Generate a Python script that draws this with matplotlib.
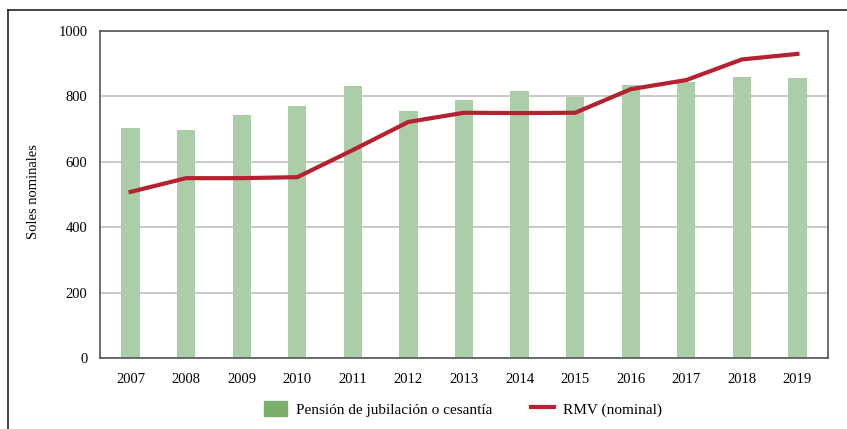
import matplotlib.pyplot as plt
from matplotlib.lines import Line2D
import numpy as np

plt.rcParams['font.family'] = ['Liberation Serif', 'DejaVu Serif']

years = ['2007', '2008', '2009', '2010', '2011', '2012', '2013',
         '2014', '2015', '2016', '2017', '2018', '2019']
pension = [702, 697, 743, 771, 832, 755, 789, 817, 798, 835, 844, 859, 856]
rmv = [508, 550, 550, 553, 636, 722, 750, 749, 750, 822, 850, 913, 930]

fig = plt.figure(figsize=(8.47, 4.29), dpi=100)
ax = fig.add_axes([100 / 847, 1 - 358 / 429, 728 / 847, 327 / 429])

x = np.arange(len(years))
ax.bar(x, pension, width=0.33, color='#abcda8', zorder=2,
       label='Pensión de jubilación o cesantía')
ax.plot(x, rmv, color='#b52130', lw=3, zorder=3, label='RMV (nominal)')

ax.set_xlim(-0.55, 12.55)
ax.set_ylim(0, 1000)
ax.set_yticks([0, 200, 400, 600, 800, 1000])
ax.set_xticks(x)
ax.set_xticklabels(years)
ax.tick_params(length=0, labelsize=10.5, colors='black')
ax.tick_params(axis='x', pad=11)
ax.tick_params(axis='y', pad=9)
ax.grid(axis='y', color='#c0c0c0', lw=1.2, zorder=1)
for s in ax.spines.values():
    s.set_color('#555555')
    s.set_linewidth(1.2)

ax.set_ylabel('Soles nominales', fontsize=10.5)
ax.yaxis.set_label_coords(-60 / 728, 0.51)

handles = [plt.Rectangle((0, 0), 1, 1, color='#7aaf6a'),
           Line2D([0], [0], color='#b52130', lw=3)]
fig.legend(handles, ['Pensión de jubilación o cesantía', 'RMV (nominal)'],
           loc='center', bbox_to_anchor=(463 / 847, 1 - 409 / 429),
           ncol=2, frameon=False, fontsize=11, handlelength=1.5,
           handleheight=1.1, columnspacing=2.5, handletextpad=0.6)

# outer frame (top and left edges only)
fig.add_artist(Line2D([8 / 847, 1], [1 - 10 / 429, 1 - 10 / 429],
                      transform=fig.transFigure, color='#222222', lw=1.2))
fig.add_artist(Line2D([8 / 847, 8 / 847], [0, 1 - 10 / 429],
                      transform=fig.transFigure, color='#222222', lw=1.2))

fig.savefig('out.png', dpi=100)
